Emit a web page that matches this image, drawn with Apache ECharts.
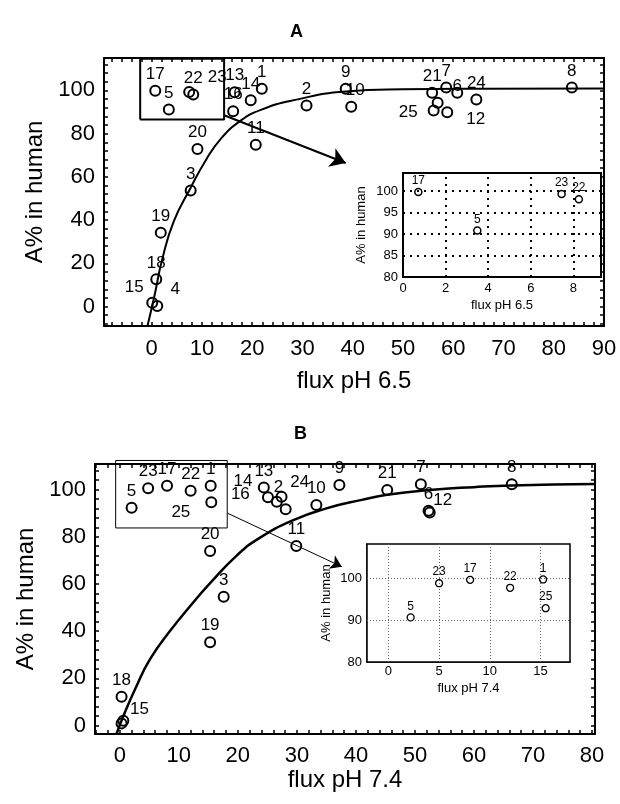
<!DOCTYPE html>
<html>
<head>
<meta charset="utf-8">
<script src="https://cdn.jsdelivr.net/npm/echarts@6/dist/echarts.min.js"></script>
<style>
html,body{margin:0;padding:0;background:#fff}
#chart{width:620px;height:804px}
</style>
</head>
<body>
<div id="chart"></div>
<script>
// panel A, flux pH 6.5
var idsA  = ['1','2','3','4','5','6','7','8','9','10','11','12','13','14','15','16','17','18','19','20','21','22','23','24','25',''];
var fluxA = [21.9,30.8,7.75,1.1,3.4,60.8,58.6,83.6,38.6,39.7,20.7,58.8,16.5,19.7,0.1,16.2,0.7,0.9,1.8,9.1,55.8,8.26,7.45,64.6,56.1,56.9];
var humA  = [100.8,93.0,53.7,0.2,91.2,98.9,101.3,101.3,100.8,92.4,74.9,89.9,99.2,95.4,1.8,90.4,99.8,12.6,34.2,72.9,98.9,98.1,99.3,95.8,90.7,94.3];
var curveAx = [-0.85,0.5,2.1,4.4,7.75,10.7,13.7,17.7,21.7,28.3,38.6,50,65,90];
var curveAy = [-9,4.5,22,39.5,55,67.5,77.5,86,91,95.5,99.5,100.5,100.8,100.9];
var rectAx = [-2.3,14.4,14.4,-2.3,-2.3];
var rectAy = [86.5,86.5,114.6,114.6,86.5];
var arrowA = [[14.4,88.5],[38.6,66.4]];
var xTicksA = [0,10,20,30,40,50,60,70,80,90];
var yTicksA = [0,20,40,60,80,100];

// inset A
var idsInA  = ['17','5','23','22'];
var fluxInA = [0.72,3.49,7.45,8.26];
var humInA  = [99.8,90.8,99.3,98.1];
var xTicksInA = [0,2,4,6,8];
var yTicksInA = [80,85,90,95,100];

// panel B, flux pH 7.4
var idsB  = ['1','2','3','4','5','6','7','8','9','10','11','12','13','14','15','16','17','18','19','20','21','22','23','24','25'];
var fluxB = [15.4,27.4,17.6,0.6,2.0,52.3,51.0,66.4,37.2,33.3,29.9,52.5,24.4,25.1,0.3,26.6,8.0,0.3,15.3,15.3,45.3,12.0,4.8,28.1,15.5];
var humB  = [101.6,96.9,54.6,2.0,92.3,91.0,102.2,102.2,101.9,93.4,76.1,90.3,100.8,96.7,0.9,94.8,101.6,12.2,35.3,73.9,99.8,99.5,100.5,91.6,94.6];
var curveBx = [-0.56,0.85,2.8,5.1,8.5,12.4,15.3,19.8,23.7,29.4,35,41,45.3,52.5,60,66.4,80.5];
var curveBy = [-3.6,5.5,16.5,28,40,52,60.3,72,79.5,87,92,95.6,97.8,99.8,101,101.7,102.3];
var rectBx = [-0.7,18.2,18.2,-0.7,-0.7];
var rectBy = [83.7,83.7,112.3,112.3,83.7];
var arrowB = [[18.2,90],[37.6,67.3]];
var xTicksB = [0,10,20,30,40,50,60,70,80];
var yTicksB = [0,20,40,60,80,100];

// inset B
var idsInB  = ['5','23','17','22','1','25'];
var fluxInB = [2.2,5.0,8.06,12.0,15.25,15.5];
var humInB  = [90.7,98.9,99.7,97.8,99.8,92.9];
var xTicksInB = [0,5,10,15];
var yTicksInB = [80,90,100];

var FONT = '"Liberation Sans", Arial, sans-serif';

// 标签偏移（标签默认在圆圈上方）
var labelA = {
  '15': {offset: [-18, 1]},
  '4':  {offset: [18, 0]},
  '25': {position: 'left', offset: [-8, 2]},
  '12': {position: 'right', offset: [11, 7]},
  '23': {offset: [28, 2]},
  '6':  {offset: [0, 10]},
  '10': {offset: [4, 0]},
  '':   {show: false}
};
var labelB = {
  '25': {position: 'left', offset: [-13, 10]},
  '15': {offset: [18, 2]},
  '12': {offset: [13, 4]},
  '14': {offset: [-25, 1]},
  '16': {position: 'left', offset: [-19, -7]},
  '2':  {offset: [-3, 7]},
  '24': {offset: [14, -11]},
  '4':  {show: false}
};

function steps(a, b, s){
  var out = [];
  for (var v = a; v <= b + 1e-9; v += s) out.push(Math.round(v * 100) / 100);
  return out;
}

function points(ids, xs, ys, labels){
  var d = [];
  for (var i = 0; i < ids.length; i++){
    var item = {name: ids[i], value: [xs[i], ys[i]]};
    if (labels && labels[ids[i]]) item.label = labels[ids[i]];
    d.push(item);
  }
  return d;
}

function pairs(xs, ys){
  var d = [];
  for (var i = 0; i < xs.length; i++) d.push([xs[i], ys[i]]);
  return d;
}

function axis(grid, min, max, pos, labels, ticks, fs, margin, name, gap, nfs, lw){
  return {
    gridIndex: grid, type: 'value', min: min, max: max, position: pos,
    axisLine: {show: true, onZero: false, lineStyle: {color: '#000', width: lw}},
    axisTick: {show: !!ticks, inside: true, length: 4, customValues: ticks || [], lineStyle: {color: '#000', width: 1.5}},
    axisLabel: {show: !!labels, customValues: labels || [], fontSize: fs, color: '#000', margin: margin, fontFamily: FONT},
    splitLine: {show: false},
    name: name || '', nameLocation: 'middle', nameGap: gap || 0,
    nameTextStyle: {fontSize: nfs || 12, color: '#000', fontFamily: FONT}
  };
}

function scatter(xi, data, size, bw, fs){
  return {
    type: 'scatter', xAxisIndex: xi, yAxisIndex: xi, data: data,
    symbol: 'circle', symbolSize: size, z: 5,
    itemStyle: {color: 'rgba(0,0,0,0)', borderColor: '#000', borderWidth: bw, opacity: 1},
    label: {show: true, formatter: '{b}', position: 'top', distance: 2, color: '#000', fontSize: fs, fontFamily: FONT},
    emphasis: {disabled: true}
  };
}
function line(xi, data, w, smooth){
  return {
    type: 'line', xAxisIndex: xi, yAxisIndex: xi, data: data, smooth: smooth,
    showSymbol: false, symbol: 'none', clip: false, z: 3,
    lineStyle: {color: '#000', width: w}, emphasis: {disabled: true}
  };
}
function arrow(xi, coords, w, size){
  return {
    type: 'lines', coordinateSystem: 'cartesian2d', xAxisIndex: xi, yAxisIndex: xi,
    data: [{coords: coords}], symbol: ['none', 'arrow'], symbolSize: size, z: 4,
    lineStyle: {color: '#000', width: w, opacity: 1, curveness: 0}, silent: true
  };
}
function gridLines(xs, ys, style){
  var d = [];
  xs.forEach(function(v){ d.push({xAxis: v}); });
  ys.forEach(function(v){ d.push({yAxis: v}); });
  return {silent: true, symbol: ['none', 'none'], label: {show: false}, lineStyle: style, data: d, animation: false};
}

var chart = echarts.init(document.getElementById('chart'), null, {renderer: 'canvas'});

var insetA = scatter(2, points(idsInA, fluxInA, humInA), 7, 1.5, 12);
insetA.label.distance = 1;
insetA.markLine = gridLines([2,4,6,8], [85,90,95,100], {color: '#000', width: 2, type: [2, 5]});

var insetB = scatter(5, points(idsInB, fluxInB, humInB), 7, 1.3, 12);
insetB.label.distance = 1;
insetB.markLine = gridLines([0,5,10,15], [90,100], {color: '#666', width: 1, type: [1, 2]});

var option = {
  animation: false,
  backgroundColor: '#fff',
  title: [
    {text: 'A', left: 285, top: 18, textStyle: {fontSize: 18, fontWeight: 'bold', color: '#000', fontFamily: FONT}},
    {text: 'B', left: 289, top: 420, textStyle: {fontSize: 18, fontWeight: 'bold', color: '#000', fontFamily: FONT}}
  ],
  grid: [
    {left: 104, top: 58, width: 500, height: 268, outerBoundsMode: 'none'},
    {left: 403, top: 173, width: 198, height: 104, show: true, backgroundColor: '#fff', borderColor: '#000', borderWidth: 2, outerBoundsMode: 'none', z: 4},
    {left: 95, top: 464, width: 500, height: 270, outerBoundsMode: 'none'},
    {left: 367, top: 544, width: 203, height: 118, show: true, backgroundColor: '#fff', borderColor: '#000', borderWidth: 1.5, outerBoundsMode: 'none', z: 4}
  ],
  xAxis: [
    axis(0, -9.5, 90, 'bottom', xTicksA, steps(-8, 90, 2), 22, 12, 'flux pH 6.5', 43, 24, 2),
    axis(0, -9.5, 90, 'top', null, steps(-8, 90, 2), 22, 12, '', 0, 12, 2),
    axis(1, 0, 9.3, 'bottom', xTicksInA, xTicksInA, 13, 5, 'flux pH 6.5', 22, 13, 2),
    axis(2, -4.2, 80.5, 'bottom', xTicksB, steps(-4, 80, 2), 22, 11, 'flux pH 7.4', 33, 24, 2),
    axis(2, -4.2, 80.5, 'top', null, steps(-4, 80, 2), 22, 11, '', 0, 12, 2),
    axis(3, -2.1, 17.9, 'bottom', xTicksInB, null, 13, 3, 'flux pH 7.4', 20, 13, 1.5)
  ],
  yAxis: [
    axis(0, -9, 115, 'left', yTicksA, steps(-8, 112, 4), 22, 9, 'A% in human', 51, 24, 2),
    axis(0, -9, 115, 'right', null, steps(-8, 112, 4), 22, 9, '', 0, 12, 2),
    axis(1, 80, 104.2, 'left', yTicksInA, yTicksInA, 13, 5, 'A% in human', 35, 13, 2),
    axis(2, -3.6, 110.8, 'left', yTicksB, steps(0, 108, 4), 22, 9, 'A% in human', 50, 24, 2),
    axis(2, -3.6, 110.8, 'right', null, steps(0, 108, 4), 22, 9, '', 0, 12, 2),
    axis(3, 80, 108.3, 'left', yTicksInB, null, 13, 5, 'A% in human', 34, 13, 1.5)
  ],
  series: [
    line(0, pairs(curveAx, curveAy), 2, 0.5),
    line(0, pairs(rectAx, rectAy), 2, false),
    arrow(0, arrowA, 2, 15),
    scatter(0, points(idsA, fluxA, humA, labelA), 10, 2, 17),
    insetA,
    line(3, pairs(curveBx, curveBy), 2.5, 0.5),
    line(3, pairs(rectBx, rectBy), 1, false),
    arrow(3, arrowB, 1, 11),
    scatter(3, points(idsB, fluxB, humB, labelB), 10, 2, 17),
    insetB
  ]
};

chart.setOption(option);
</script>
</body>
</html>
